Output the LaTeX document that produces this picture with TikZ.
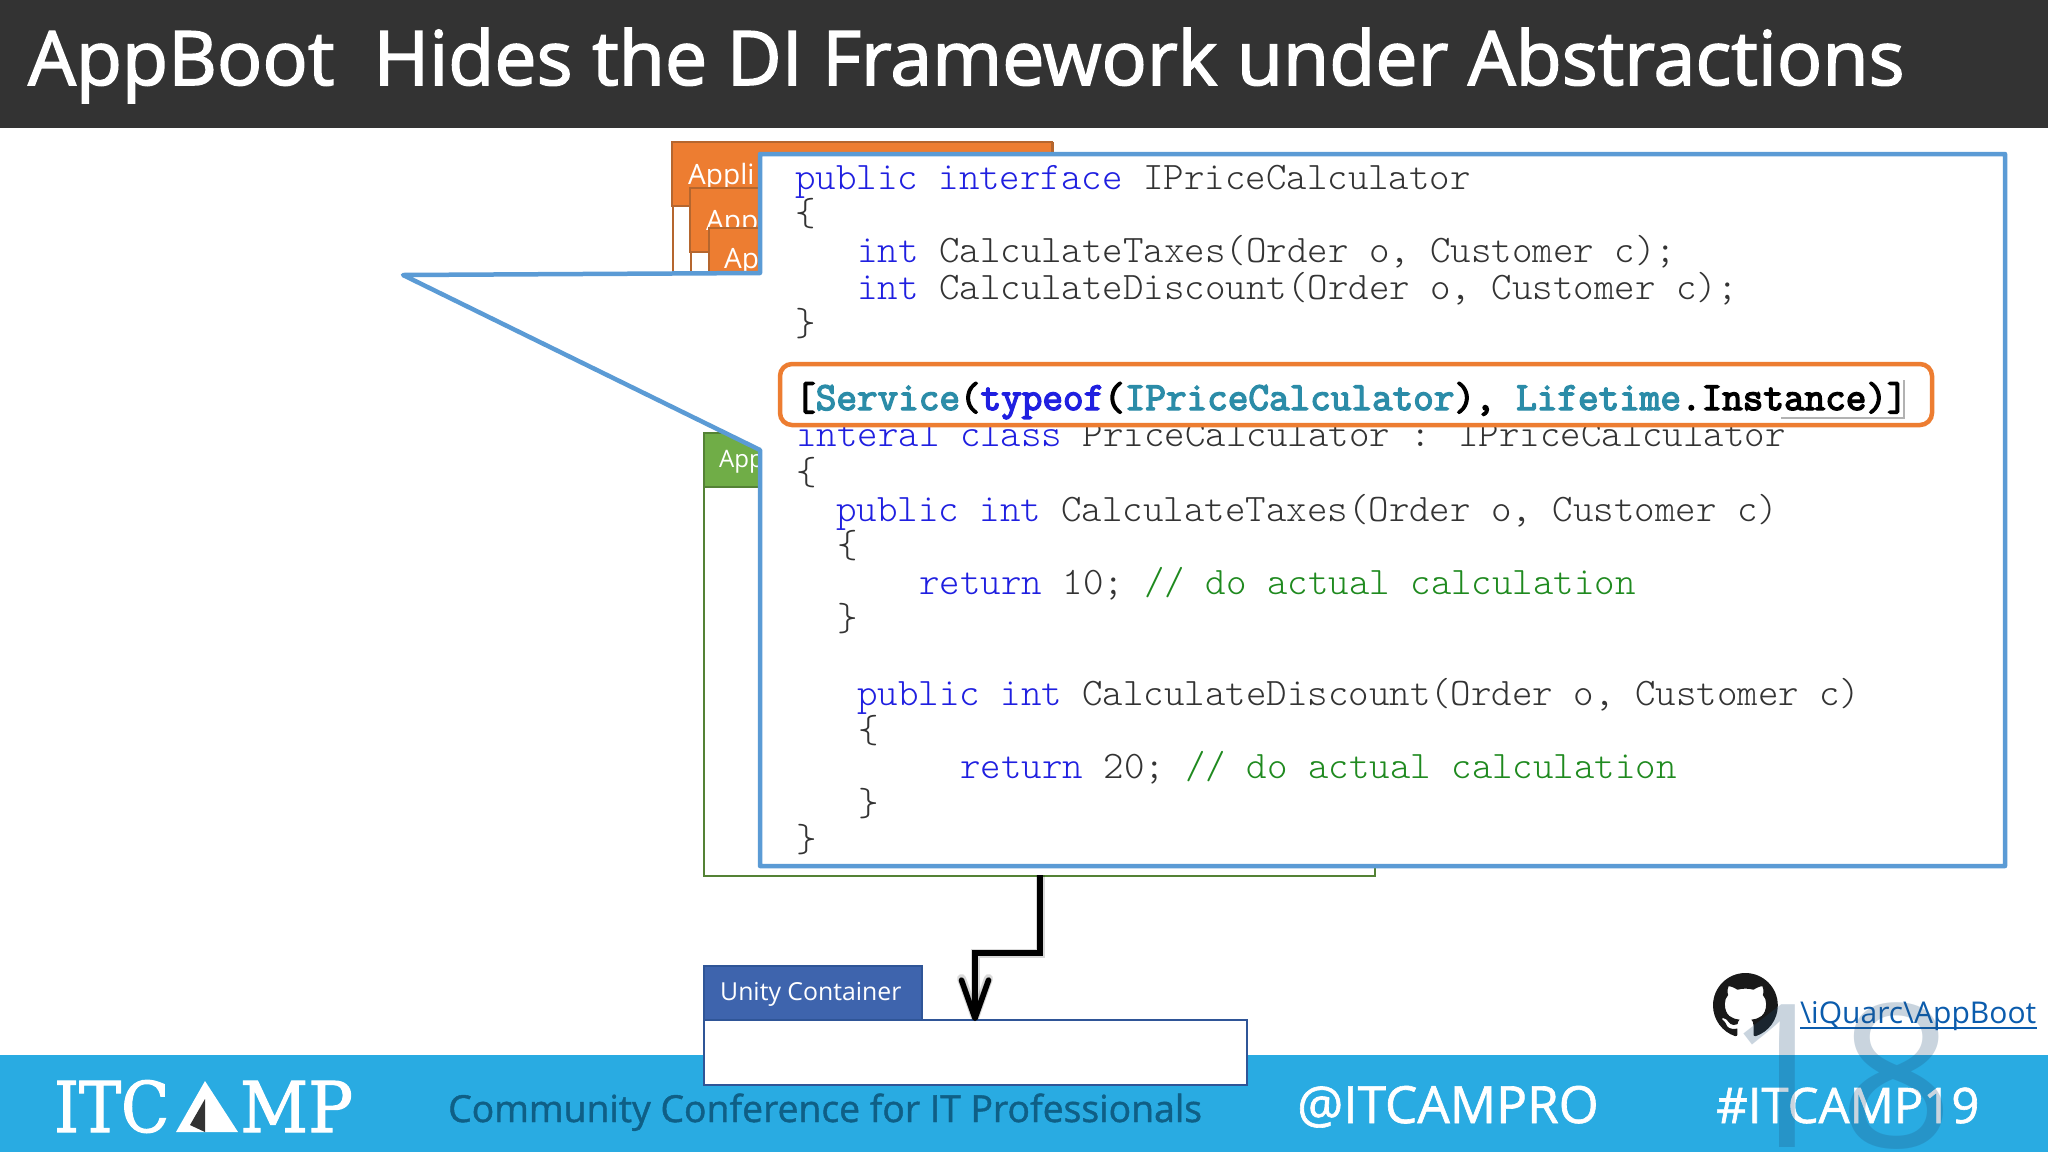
\documentclass[tikz,border=0pt]{standalone}
\usepackage{fontspec}
\usetikzlibrary{arrows.meta,svg.path}
\setmainfont{Open Sans}
\newfontfamily\logofont[FakeStretch=0.9,FakeBold=1.5]{DejaVu Serif}
\newfontfamily\logofontB[FakeStretch=0.95,FakeBold=1.5]{DejaVu Serif}
\newfontfamily\heavyfont[FakeBold=2]{Open Sans}
\newfontfamily\midfont[FakeBold=1.2]{Open Sans}
\newfontfamily\codefont{Latin Modern Mono Light}
\newfontfamily\boldcode[FakeBold=3.5]{Latin Modern Mono}
\definecolor{barDark}{HTML}{333333}
\definecolor{barBlue}{HTML}{29ABE2}
\definecolor{calloutBlue}{HTML}{5B9BD5}
\definecolor{orangeFill}{HTML}{ED7D31}
\definecolor{orangeLine}{HTML}{B5662E}
\definecolor{greenFill}{HTML}{70AD47}
\definecolor{greenLine}{HTML}{548235}
\definecolor{unityFill}{HTML}{3E64AD}
\definecolor{unityLine}{HTML}{2F5597}
\definecolor{numGrey}{HTML}{1F4E79}
\definecolor{kw}{HTML}{1F1FE0}
\definecolor{cm}{HTML}{1F8A1F}
\definecolor{tx}{HTML}{333333}
\definecolor{teal}{HTML}{2B8CA8}
\definecolor{confText}{HTML}{0F5F86}
\definecolor{linkBlue}{HTML}{0B5CAD}
\tikzset{
  x=1pt,y=-1pt,
  label text/.style={inner sep=0pt,anchor=base west,font=\fontsize{#1}{#1}\selectfont},
  codeline/.style={inner sep=0pt,anchor=base west,text=tx,font=\codefont\fontsize{39}{39}\selectfont},
  boldline/.style={inner sep=0pt,anchor=base west,text=black,font=\boldcode\fontsize{40}{40}\selectfont},
  boxed/.style={draw=#1,line width=1.8pt,fill=white,inner sep=0pt,anchor=north west},
  arrowline/.style={line width=5.5pt,-{Straight Barb[length=38pt,width=27pt,round]},line join=miter},
}
\newcommand{\kwd}[1]{\textcolor{kw}{#1}}
\newcommand{\cmt}[1]{\textcolor{cm}{#1}}
\newcommand{\tl}[1]{\textcolor{teal}{#1}}
\begin{document}
\begin{tikzpicture}
\useasboundingbox (0,0) rectangle (2048,1152);
\fill[white] (0,0) rectangle (2048,1152);
% bars
\fill[barDark] (0,0) rectangle (2048,128);
\fill[barBlue] (0,1055) rectangle (2048,1152);
\node[inner sep=0pt,anchor=base west,text=white,font=\heavyfont\fontsize{75.3}{75.3}\selectfont] (title) at (28,85) {AppBoot\ \ Hides the DI Framework under Abstractions};
% orange stack
\node[boxed=orangeLine,minimum width=380pt,minimum height=200pt] (o1) at (672,142) {};
\fill[orangeFill] (o1.north west) rectangle (1052,206);
\draw[orangeLine,line width=1.8pt] (o1.north west) rectangle (1052,206);
\node[label text=28,text=white] (o1t) at (688,184) {Appli};
\node[boxed=orangeLine,minimum width=362pt,minimum height=160pt] (o2) at (690,188) {};
\fill[orangeFill] (o2.north west) rectangle (1052,252);
\draw[orangeLine,line width=1.8pt] (o2.north west) rectangle (1052,252);
\node[label text=28,text=white] (o2t) at (706,230) {App};
\node[boxed=orangeLine,fill=orangeFill,minimum width=344pt,minimum height=100pt] (o3) at (708,227) {};
\node[label text=28,text=white] (o3t) at (724,268) {Ap};
% green box
\node[boxed=greenLine,minimum width=671pt,minimum height=443pt] (green) at (703,432) {};
\node[boxed=greenLine,fill=greenFill,minimum width=300pt,minimum height=54pt] (greenhead) at (703,432) {};
\node[label text=24,text=white] (greent) at (719,467) {App};
% callout
\draw[calloutBlue,line width=4.5pt,fill=white,line join=round]
  (760,154) -- (2005,154) -- (2005,866) -- (760,866) -- (760,450) -- (403,275) -- (760,273) -- cycle;
% code
\node[codeline] (c1) at (795,189) {\kwd{public interface} IPriceCalculator};
\node[codeline] (c2) at (795,225) {\{};
\node[codeline] (c3) at (857,262) {\kwd{int} CalculateTaxes(Order o, Customer c);};
\node[codeline] (c4) at (857,299) {\kwd{int} CalculateDiscount(Order o, Customer c);};
\node[codeline] (c5) at (795,335) {\}};
\node[codeline] (c7) at (796,446) {\kwd{interal class} PriceCalculator : IPriceCalculator};
% orange highlight
\draw[orangeFill,line width=4.5pt,fill=white,rounded corners=12pt] (780,364) rectangle (1932,425);
\draw[gray!60,line width=1.5pt] (1781,418) -- (1904,418) -- (1904,380);
\node[boldline] (c6) at (795,410) {[\tl{Service}(\kwd{typeof}(\tl{IPriceCalculator}), \tl{Lifetime}.Instance)]};
\node[codeline] (c8) at (796,484) {\{};
\node[codeline] (c9) at (836,521) {\kwd{public int} CalculateTaxes(Order o, Customer c)};
\node[codeline] (c10) at (837,557) {\{};
\node[codeline] (c11) at (919,594) {\kwd{return} 10; \cmt{// do actual calculation}};
\node[codeline] (c12) at (837,630) {\}};
\node[codeline] (c13) at (857,705) {\kwd{public int} CalculateDiscount(Order o, Customer c)};
\node[codeline] (c14) at (858,742) {\{};
\node[codeline] (c15) at (960,778) {\kwd{return} 20; \cmt{// do actual calculation}};
\node[codeline] (c16) at (858,815) {\}};
\node[codeline] (c17) at (796,851) {\}};
% unity
\node[boxed=unityLine,minimum width=543pt,minimum height=65pt] (unity) at (703,1019) {};
\node[boxed=unityLine,fill=unityFill,minimum width=218pt,minimum height=54pt] (unityhead) at (703,965) {};
\node[label text=24.8,text=white] (unityt) at (720,1000) {Unity Container};
% arrow
\coordinate (astart) at (1040,875);
\coordinate (abendA) at (1040,953);
\coordinate (abendB) at (975,953);
\coordinate (aend) at (975,1021);
\begin{scope}[shift={(5,5)}]
\draw[arrowline,draw=black,opacity=.15,line width=9pt] (astart) -- (abendA) -- (abendB) -- (aend);
\draw[arrowline,draw=black,opacity=.2,line width=6pt] (astart) -- (abendA) -- (abendB) -- (aend);
\end{scope}
\draw[arrowline,draw=black] (astart) -- (abendA) -- (abendB) -- (aend);
% footer text
\node[inner sep=0pt,anchor=base west,text=white,font=\logofont\fontsize{70}{70}\selectfont] (logoA) at (54,1132) {ITC};
\fill[white] (205,1081) -- (238,1132) -- (176,1132) -- cycle;
\fill[barDark] (205,1099) -- (205,1132) -- (190,1125) -- cycle;
\node[inner sep=0pt,anchor=base west,text=white,font=\logofontB\fontsize{70}{70}\selectfont] (logoB) at (240,1132) {MP};
\node[inner sep=0pt,anchor=base west,text=confText,font=\midfont\fontsize{37.3}{37.3}\selectfont] (conf) at (448,1122) {Community Conference for IT Professionals};
\node[inner sep=0pt,anchor=base west,text=white,font=\midfont\fontsize{51.3}{51.3}\selectfont] (handle) at (1297,1123) {@ITCAMPRO};
\node[inner sep=0pt,anchor=base west,text=white,font=\midfont\fontsize{49}{49}\selectfont] (tag) at (1716,1123) {\#ITCAMP19};
% github
\begin{scope}[shift={(1713,973)},xscale=4.05,yscale=-4.05]
\fill[black!90] svg {M8 0 C3.58 0 0 3.58 0 8 c0 3.54 2.29 6.53 5.47 7.59 .4 .07 .55 -.17 .55 -.38 0 -.19 -.01 -.82 -.01 -1.49 -2.01 .37 -2.53 -.49 -2.69 -.94 -.09 -.23 -.48 -.94 -.82 -1.13 -.28 -.15 -.68 -.52 -.01 -.53 .63 -.01 1.08 .58 1.23 .82 .72 1.21 1.87 .87 2.33 .66 .07 -.52 .28 -.87 .51 -1.07 -1.78 -.2 -3.64 -.89 -3.64 -3.95 0 -.87 .31 -1.59 .82 -2.15 -.08 -.2 -.36 -1.02 .08 -2.12 0 0 .67 -.21 2.2 .82 .64 -.18 1.32 -.27 2 -.27 .68 0 1.36 .09 2 .27 1.53 -1.04 2.2 -.82 2.2 -.82 .44 1.1 .16 1.92 .08 2.12 .51 .56 .82 1.27 .82 2.15 0 3.07 -1.87 3.75 -3.65 3.95 .29 .25 .54 .73 .54 1.48 0 1.07 -.01 1.93 -.01 2.2 0 .21 .15 .46 .55 .38 C13.71 14.53 16 11.53 16 8 c0 -4.42 -3.58 -8 -8 -8 z};
\end{scope}
\node[label text=30,text=linkBlue] (link) at (1800,1023) {\textbackslash iQuarc\textbackslash AppBoot};
\draw[linkBlue,line width=1.5pt] (link.base west) ++(0,5) -- ++(237,0);
% watermark
\node[label text=200,text=numGrey,opacity=.24] (pagenum) at (1725,1147) {18};
\end{tikzpicture}
\end{document}
